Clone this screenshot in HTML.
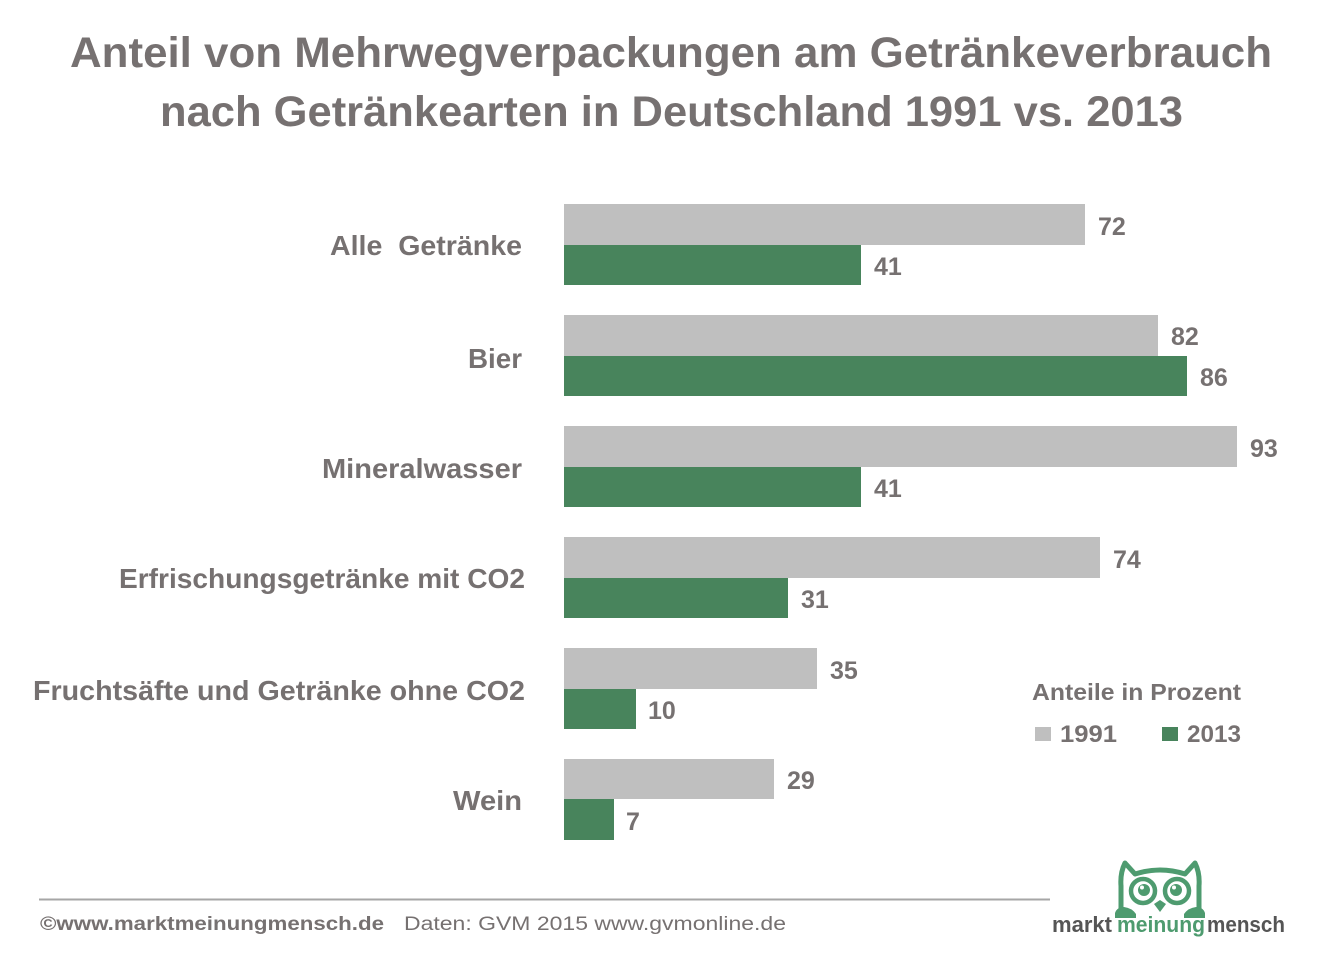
<!DOCTYPE html>
<html>
<head>
<meta charset="utf-8">
<style>
  html,body{margin:0;padding:0;background:#fff;}
  svg{display:block;}
  text{font-family:"Liberation Sans",sans-serif;fill:#767171;}
  .b{font-weight:bold;}
</style>
</head>
<body>
<svg width="1330" height="953" viewBox="0 0 1330 953" xmlns="http://www.w3.org/2000/svg">
  <rect x="0" y="0" width="1330" height="953" fill="#fff"/>

  <!-- Title -->
  <text class="b" x="70" y="67" font-size="43" textLength="1202" lengthAdjust="spacingAndGlyphs">Anteil von Mehrwegverpackungen am Getränkeverbrauch</text>
  <text class="b" x="160" y="126" font-size="43" textLength="1023" lengthAdjust="spacingAndGlyphs">nach Getränkearten in Deutschland 1991 vs. 2013</text>

  <!-- Category labels -->
  <text class="b" x="330" y="255" font-size="28" textLength="192" lengthAdjust="spacingAndGlyphs" xml:space="preserve">Alle  Getränke</text>
  <text class="b" x="468" y="368" font-size="28" textLength="54" lengthAdjust="spacingAndGlyphs">Bier</text>
  <text class="b" x="322" y="478" font-size="28" textLength="200" lengthAdjust="spacingAndGlyphs">Mineralwasser</text>
  <text class="b" x="119" y="588" font-size="28" textLength="406" lengthAdjust="spacingAndGlyphs">Erfrischungsgetränke mit CO2</text>
  <text class="b" x="33" y="700" font-size="28" textLength="492" lengthAdjust="spacingAndGlyphs">Fruchtsäfte und Getränke ohne CO2</text>
  <text class="b" x="453" y="810" font-size="28" textLength="69" lengthAdjust="spacingAndGlyphs">Wein</text>

  <!-- Bars -->
  <g fill="#BFBFBF">
    <rect x="564" y="204" width="521" height="41"/>
    <rect x="564" y="315" width="594" height="41"/>
    <rect x="564" y="426" width="673" height="41"/>
    <rect x="564" y="537" width="536" height="41"/>
    <rect x="564" y="648" width="253" height="41"/>
    <rect x="564" y="759" width="210" height="40"/>
  </g>
  <g fill="#48845C">
    <rect x="564" y="245" width="297" height="40"/>
    <rect x="564" y="356" width="623" height="40"/>
    <rect x="564" y="467" width="297" height="40"/>
    <rect x="564" y="578" width="224" height="40"/>
    <rect x="564" y="689" width="72" height="40"/>
    <rect x="564" y="799" width="50" height="41"/>
  </g>

  <!-- Value labels -->
  <g class="b" font-size="25" font-weight="bold">
    <text x="1098" y="235">72</text>
    <text x="874" y="275">41</text>
    <text x="1171" y="345">82</text>
    <text x="1200" y="386">86</text>
    <text x="1250" y="457">93</text>
    <text x="874" y="497">41</text>
    <text x="1113" y="568">74</text>
    <text x="801" y="608">31</text>
    <text x="830" y="679">35</text>
    <text x="648" y="719">10</text>
    <text x="787" y="789">29</text>
    <text x="626" y="830">7</text>
  </g>

  <!-- Legend -->
  <text class="b" x="1032" y="700" font-size="23" textLength="209" lengthAdjust="spacingAndGlyphs">Anteile in Prozent</text>
  <rect x="1035" y="727" width="16" height="14" fill="#BFBFBF"/>
  <text class="b" x="1060" y="742" font-size="24" textLength="57" lengthAdjust="spacingAndGlyphs">1991</text>
  <rect x="1162" y="727" width="16" height="14" fill="#48845C"/>
  <text class="b" x="1187" y="742" font-size="24" textLength="54" lengthAdjust="spacingAndGlyphs">2013</text>

  <!-- Footer line -->
  <line x1="39" y1="899.5" x2="1050" y2="899.5" stroke="#A6A6A6" stroke-width="2"/>

  <!-- Footer text -->
  <text class="b" x="40" y="930" font-size="19" textLength="344" lengthAdjust="spacingAndGlyphs">©www.marktmeinungmensch.de</text>
  <text x="404" y="930" font-size="19" textLength="382" lengthAdjust="spacingAndGlyphs">Daten: GVM 2015 www.gvmonline.de</text>

  <!-- Logo owl (outline style) -->
  <path d="M1121,910 L1121,886 Q1120,873 1125,863 L1135,874 Q1160,866 1185,874 L1195,863 Q1200,873 1199,886 L1199,910"
        fill="none" stroke="#4E9B6F" stroke-width="5" stroke-linejoin="round" stroke-linecap="round"/>
  <g fill="#fff" stroke="#4E9B6F" stroke-width="4.5">
    <circle cx="1143" cy="891" r="12"/>
    <circle cx="1177" cy="891" r="12"/>
  </g>
  <g fill="#4E9B6F">
    <circle cx="1144" cy="890" r="6"/>
    <circle cx="1176" cy="890" r="6"/>
    <path d="M1154,904 L1160,900 L1166,904 L1160,912 Z"/>
    <path d="M1115,913 Q1117,907 1124,907 Q1132,908 1136,914 L1136,918 L1115,918 Z"/>
    <path d="M1205,913 Q1203,907 1196,907 Q1188,908 1184,914 L1184,918 L1205,918 Z"/>
  </g>
  <g fill="#fff">
    <circle cx="1142" cy="887.5" r="2"/>
    <circle cx="1174" cy="887.5" r="2"/>
  </g>

  <!-- Logo text -->
  <text x="1052" y="932" font-size="22" font-weight="bold" style="fill:#555555" textLength="60" lengthAdjust="spacingAndGlyphs">markt</text>
  <text x="1117" y="932" font-size="22" font-weight="bold" style="fill:#4E9B6F" textLength="88" lengthAdjust="spacingAndGlyphs">meinung</text>
  <text x="1207" y="932" font-size="22" font-weight="bold" style="fill:#555555" textLength="78" lengthAdjust="spacingAndGlyphs">mensch</text>
</svg>
</body>
</html>
